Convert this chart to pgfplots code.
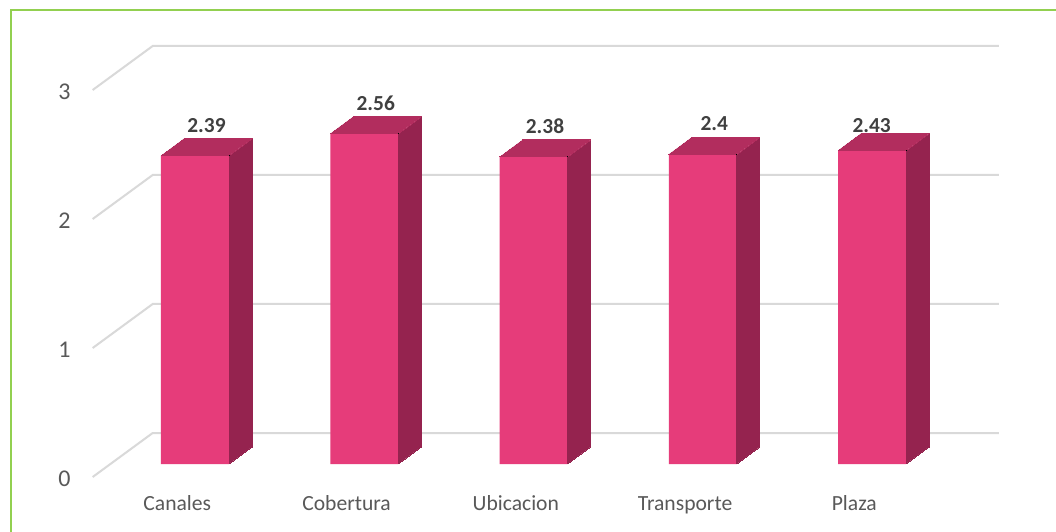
\documentclass[border=0pt]{standalone}
\usepackage{fontspec}
\setmainfont{Carlito}
\usepackage{pgfplots}
\usepackage{pgfplotstable}
\pgfplotsset{compat=1.18}
\definecolor{frontc}{HTML}{E63C7A}
\definecolor{topc}{HTML}{B22D5E}
\definecolor{sidec}{HTML}{95234F}
\definecolor{gridc}{HTML}{D9D9D9}
\definecolor{labc}{HTML}{595959}
\definecolor{valc}{HTML}{404040}
\definecolor{framec}{HTML}{92D050}
\pgfplotstableread{
x v lx ly
0 2.39 0 0
1 2.56 0 0
2 2.38 0 0
3 2.40 0 0
4 2.43 -5.9 -2.85
}\bars
\begin{document}
\begin{tikzpicture}
\useasboundingbox (0pt,0pt) rectangle (528pt,265.5pt);
\fill[white] (0pt,0pt) rectangle (528pt,265.5pt);
\begin{axis}[
  at={(0pt,0pt)}, anchor=south west,
  x=84.625pt, y=64.5pt,
  xmin=-1.15214, xmax=5.08715, ymin=-0.51938, ymax=3.59690,
  axis line style={draw=none},
  tick style={draw=none},
  xtick={-0.1046,0.8954,1.8954,2.8954,3.8954},
  xticklabels={Canales,Cobertura,Ubicacion,Transporte,Plaza},
  ytick={-0.1008,0.8992,1.8992,2.8992},
  yticklabels={0,1,2,3},
  xticklabel style={anchor=base, yshift=10.5pt, font=\fontsize{10.8}{12}\selectfont, text=labc, inner sep=0pt},
  yticklabel style={anchor=center, xshift=32.25pt, yshift=-1pt, font=\fontsize{12}{13}\selectfont, text=labc, inner sep=0pt},
  /pgf/number format/assume math mode=true,
  clip=false,
]
% gridlines: left wall diagonal + back wall
\addplot[gridc, line width=1pt, mark=none] coordinates {(-0.6046,-0.1008) (-0.25,0.2403) (4.75,0.2403)};
\addplot[gridc, line width=1pt, mark=none] coordinates {(-0.6046,0.8992) (-0.25,1.2403) (4.75,1.2403)};
\addplot[gridc, line width=1pt, mark=none] coordinates {(-0.6046,1.8992) (-0.25,2.2403) (4.75,2.2403)};
\addplot[gridc, line width=1pt, mark=none] coordinates {(-0.6046,2.8992) (-0.25,3.2403) (4.75,3.2403)};
% front faces
\addplot[ybar, bar width=0.4018, bar shift=0pt, fill=frontc, draw=none,
  point meta=y,
  nodes near coords,
  visualization depends on={\thisrow{lx} \as \labdx},
  visualization depends on={\thisrow{ly} \as \labdy},
  every node near coord/.append style={anchor=base, xshift={(5.75+\labdx)*1pt}, yshift={(11.75+\labdy)*1pt},
     font=\bfseries\fontsize{10.7}{12}\selectfont, text=valc, inner sep=0pt},
] table[x=x, y=v] {\bars};
% side and top faces, drawn at the top-right corner of each front face
\addplot[scatter, only marks, mark=*, mark size=0pt, mark options={line width=0pt},
  visualization depends on={\thisrow{v} \as \barval},
  scatter/@pre marker code/.code={%
    \pgfmathsetmacro\hneg{-\barval*64.5}%
    \pgfmathsetmacro\hside{8.5-\barval*64.5}%
    \fill[sidec] (0pt,0pt) -- (11.5pt,8.5pt) -- (11.5pt,\hside pt) -- (0pt,\hneg pt) -- cycle;
    \fill[topc] (0pt,0pt) -- (-34pt,0pt) -- (-22.5pt,8.5pt) -- (11.5pt,8.5pt) -- cycle;
  },
  scatter/@post marker code/.code={},
] table[x expr=\thisrow{x}+0.2009, y=v] {\bars};
\end{axis}
\draw[framec, line width=1pt] (5.65pt,-5pt) -- (5.65pt,260.4pt) -- (540pt,260.4pt);
\end{tikzpicture}
\end{document}
